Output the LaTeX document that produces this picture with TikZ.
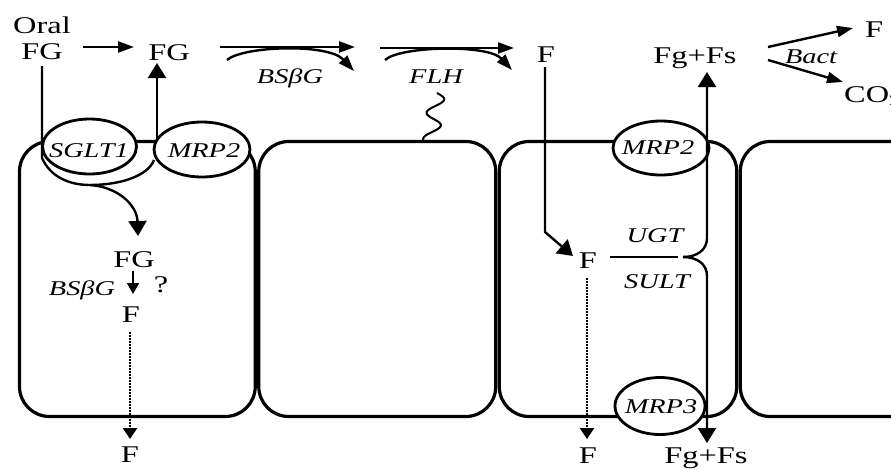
\documentclass[tikz,border=0pt]{standalone}
\usepackage{fontspec}
\setmainfont{Liberation Serif}
\usepackage{graphicx}
\usetikzlibrary{arrows.meta,shapes.geometric}
\newcommand{\wide}[1]{\scalebox{1.35}[1]{#1}}
\begin{document}
\begin{tikzpicture}[x=1pt,y=-1pt,
  lab/.style={inner sep=0pt,anchor=base,font=\fontsize{24}{26}\selectfont},
  ilab/.style={inner sep=0pt,anchor=base,font=\fontsize{21}{23}\selectfont\itshape},
  memb/.style={line width=3.2pt,rounded corners=30pt},
  trans/.style={draw,ellipse,line width=2.8pt,fill=white,inner sep=0pt},
  conn/.style={line width=2.4pt},
  bigv/.style={conn,-{Triangle[length=15pt,width=18pt]}},
  bigh/.style={conn,-{Triangle[length=16pt,width=11pt]}},
  smallarr/.style={line width=1.8pt,-{Triangle[length=11pt,width=12pt]}},
  dotarrow/.style={line width=2.8pt,dash pattern=on 1.8pt off 1.2pt,-{Triangle[length=11pt,width=14pt]}},
]
\useasboundingbox (0,0) rectangle (891,469);
% cells
\draw[memb] (19.5,141.5) rectangle (255.25,416.5);
\draw[memb] (258.75,141.5) rectangle (495.75,416.5);
\draw[memb] (499.25,141.5) rectangle (736.75,416.5);
\draw[memb] (740.25,141.5) rectangle (990,416.5);
% transporters
\node[trans,minimum width=94pt,minimum height=55pt] (sglt) at (89.5,146.5) {};
\node[trans,minimum width=96pt,minimum height=55pt] (mrpa) at (202,149.5) {};
\node[trans,minimum width=96pt,minimum height=54pt] (mrpb) at (661,148) {};
\node[trans,minimum width=90pt,minimum height=57pt] (mrpc) at (660,406) {};
\node[ilab] (tsglt) at (89,157) {\wide{SGLT1}};
\node[ilab] (tmrpa) at (204,157) {\wide{MRP2}};
\node[ilab] (tmrpb) at (658,154) {\wide{MRP2}};
\node[ilab] (tmrpc) at (661,413) {\wide{MRP3}};
% texts
\node[lab] (oral) at (42,33) {\wide{Oral}};
\node[lab] (fg0) at (42,59) {\wide{FG}};
\node[lab] (fg1) at (169,60) {\wide{FG}};
\node[ilab] (bsbg) at (290,83) {\wide{BSβG}};
\node[ilab] (flh) at (436,83) {\wide{FLH}};
\node[lab] (ftop) at (546,62) {\wide{F}};
\node[lab] (fgfs1) at (695,63) {\wide{Fg+Fs}};
\node[ilab] (bact) at (811,63) {\wide{Bact}};
\node[lab] (fr) at (874,37) {\wide{F}};
\node[lab,anchor=base west] (co2) at (844,102) {\wide{CO$_2$}};
\node[lab] (fgc) at (134,267) {\wide{FG}};
\node[ilab] (bsbgc) at (82,295) {\wide{BSβG}};
\node[lab] (q) at (161,292) {\wide{?}};
\node[lab] (fc) at (131,322) {\wide{F}};
\node[lab] (fb1) at (130,462) {\wide{F}};
\node[lab] (f3) at (588,268) {\wide{F}};
\node[ilab] (ugt) at (655,242) {\wide{UGT}};
\node[ilab] (sult) at (657,288) {\wide{SULT}};
\node[lab] (fb3) at (588,463) {\wide{F}};
\node[lab] (fgfs2) at (706,463) {\wide{Fg+Fs}};
% coordinates
\coordinate (a0) at (83,47); \coordinate (a1) at (134,47);
\coordinate (d0) at (42,66); \coordinate (d1) at (42,158);
\coordinate (ub) at (90,185); \coordinate (ur) at (154,160);
\coordinate (v0) at (157,141); \coordinate (v1) at (157,63);
\coordinate (bt) at (138,236);
\coordinate (b0) at (220,47); \coordinate (b1) at (355,47);
\coordinate (b2) at (227,60); \coordinate (b3) at (354,71);
\coordinate (l0) at (380,48); \coordinate (l1) at (514,48);
\coordinate (l2) at (385,60); \coordinate (l3) at (512,70);
\coordinate (e0) at (545,67); \coordinate (e1) at (545,232); \coordinate (e2) at (573,256);
\coordinate (h0) at (610,257); \coordinate (h1) at (678,257); \coordinate (tip) at (683,257);
\coordinate (up1) at (707,238); \coordinate (up2) at (707,72);
\coordinate (dn1) at (707,276); \coordinate (dn2) at (707,443);
\coordinate (x0) at (768,47); \coordinate (x1) at (853,28);
\coordinate (x2) at (768,60); \coordinate (x3) at (843,82);
\coordinate (s0) at (133,271); \coordinate (s1) at (133,294);
\coordinate (p0) at (130,332); \coordinate (p1) at (130,439);
\coordinate (q0) at (587,278); \coordinate (q1) at (587,439);
% connectors
\draw[bigh] (a0) -- (a1);
\draw[conn] (d0) -- (d1) .. controls (50,176) and (68,185) .. (ub) .. controls (120,185) and (148,176) .. (ur);
\draw[bigv] (v0) -- (v1);
\draw[bigv] (ub) .. controls (118,187) and (137,205) .. (bt);
\draw[bigh] (b0) -- (b1);
\draw[bigh] (b2) .. controls (243,46) and (328,43) .. (b3);
\draw[bigh] (l0) -- (l1);
\draw[bigh] (l2) .. controls (400,46) and (488,44) .. (l3);
\draw[line width=2pt] plot[domain=0:1,samples=50,smooth] ({437-6*\x+8*sin(650*\x)},{93+47*\x});
\draw[bigv] (e0) -- (e1) -- (e2);
\draw[conn] (h0) -- (h1);
\draw[bigv] (tip) .. controls (697,257) and (707,250) .. (up1) -- (up2);
\draw[bigv] (tip) .. controls (697,257) and (707,264) .. (dn1) -- (dn2);
\draw[bigh] (x0) -- (x1);
\draw[bigh] (x2) -- (x3);
\draw[smallarr] (s0) -- (s1);
\draw[dotarrow] (p0) -- (p1);
\draw[dotarrow] (q0) -- (q1);
\end{tikzpicture}
\end{document}
